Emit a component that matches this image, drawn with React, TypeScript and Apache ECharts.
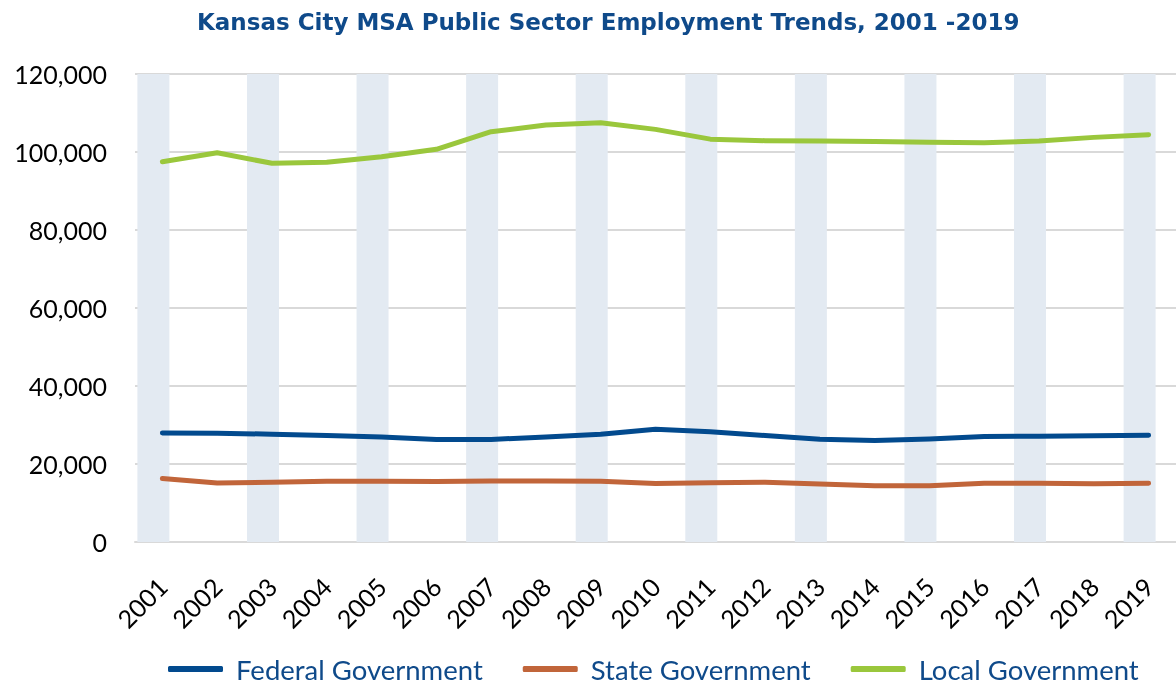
import React, { useEffect, useRef } from "react";
import * as echarts from "echarts";

const years = ["2001","2002","2003","2004","2005","2006","2007","2008","2009","2010","2011","2012","2013","2014","2015","2016","2017","2018","2019"];
const federal = [27970, 27900, 27640, 27300, 26950, 26300, 26300, 26950, 27640, 28890, 28270, 27300, 26330, 26000, 26430, 27040, 27120, 27220, 27380];
const state = [16270, 15140, 15320, 15580, 15580, 15500, 15650, 15650, 15580, 15000, 15210, 15300, 14870, 14420, 14420, 15040, 15040, 14950, 15040];
const local = [97500, 99800, 97100, 97350, 98800, 100700, 105200, 106900, 107500, 105800, 103300, 102900, 102800, 102700, 102500, 102350, 102800, 103750, 104450];
const yTicks = { min: 0, max: 120000, interval: 20000 };

const TITLE = "Kansas City MSA Public Sector Employment Trends, 2001 -2019";
const BLUE_TEXT = "#0F4A8A";

export default function App() {
  const ref = useRef<HTMLDivElement>(null);
  useEffect(() => {
    if (!ref.current) return;
    const chart = echarts.init(ref.current, null, { renderer: "svg" });
    const bands = years.map((_, i) => (i % 2 === 0 ? yTicks.max : "-"));
    const lineBase = (name: string, data: number[], color: string) => ({
      name,
      type: "line",
      data,
      showSymbol: false,
      symbol: "none",
      smooth: false,
      lineStyle: { color, width: 5, cap: "round", join: "round" },
      itemStyle: { color },
      z: 5,
    });
    chart.setOption({
      animation: false,
      title: {
        text: TITLE,
        left: 192,
        top: 5,
        textStyle: { fontFamily: "DejaVu Sans", fontWeight: "bold", fontSize: 23, color: BLUE_TEXT },
      },
      grid: { left: 135, right: -8, top: 74, bottom: 142, containLabel: false },
      legend: {
        data: ["Federal Government", "State Government", "Local Government"],
        left: 168,
        top: 655,
        padding: 0,
        itemWidth: 55,
        itemHeight: 6,
        itemGap: 40,
        icon: "roundRect",
        textStyle: { fontFamily: "Lato", fontSize: 27.5, lineHeight: 28, color: BLUE_TEXT, padding: [0, 0, 0, 8] },
      },
      xAxis: {
        type: "category",
        data: years,
        boundaryGap: true,
        axisLine: { show: true, lineStyle: { color: "#D9D9D9", width: 2 } },
        axisTick: { show: false },
        axisLabel: { rotate: 45, margin: 40, fontFamily: "Lato", fontSize: 25, color: "#000", interval: 0 },
        splitLine: { show: false },
      },
      yAxis: {
        type: "value",
        min: yTicks.min,
        max: yTicks.max,
        interval: yTicks.interval,
        axisLine: { show: false },
        axisTick: { show: false },
        axisLabel: {
          margin: 28,
          fontFamily: "Lato",
          fontSize: 25,
          color: "#000",
          formatter: (v: number) => v.toLocaleString("en-US"),
        },
        splitLine: { lineStyle: { color: "#D9D9D9", width: 2 } },
      },
      series: [
        {
          name: "band",
          type: "bar",
          data: bands,
          barWidth: 32,
          barGap: "0%",
          itemStyle: { color: "#E3EAF2" },
          silent: true,
          z: 1,
        },
        {
          name: "spacer",
          type: "bar",
          data: years.map(() => "-"),
          barWidth: 18,
          barGap: "0%",
          itemStyle: { color: "transparent" },
          silent: true,
          z: 1,
        },
        lineBase("Federal Government", federal, "#024A8E"),
        lineBase("State Government", state, "#C1653A"),
        lineBase("Local Government", local, "#9AC73C"),
      ],
    });
    return () => chart.dispose();
  }, []);
  return <div ref={ref} style={{ position: "fixed", left: 0, top: 0, width: 1176, height: 684 }} />;
}
